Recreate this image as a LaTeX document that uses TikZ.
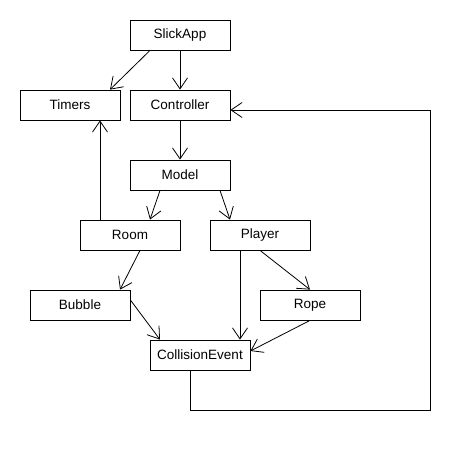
\documentclass[tikz,border=0pt]{standalone}
\usepackage{fontspec}
\setmainfont{Liberation Sans}
\usetikzlibrary{arrows.meta}
\tikzset{
  cls/.style={draw, line width=0.8pt, minimum width=100pt, minimum height=30pt, inner sep=0pt, font=\fontsize{13.5}{16}\selectfont},
  dep/.style={->, line width=0.8pt}
}
\begin{document}
\begin{tikzpicture}[x=1pt, y=-1pt, >={Straight Barb[length=11pt, width=15pt]}]
				\useasboundingbox (0,0) rectangle (470,450);
				% 1. 类框
				\node[cls] (slick) at (180,35) {SlickApp};
				\node[cls] (timers) at (70,105) {Timers};
				\node[cls] (ctrl) at (180,105) {Controller};
				\node[cls] (model) at (180,175) {Model};
				\node[cls] (room) at (130,235) {Room};
				\node[cls] (player) at (260,235) {Player};
				\node[cls] (bubble) at (80,305) {Bubble};
				\node[cls] (rope) at (310,305) {Rope};
				\node[cls] (coll) at (200,355) {CollisionEvent};
				
				% 2. 依赖箭头
				\draw[dep] ([xshift=-30pt]slick.south) -- ([xshift=40pt]timers.north);
				\draw[dep] (slick.south) -- (ctrl.north);
				\draw[dep] (ctrl.south) -- (model.north);
				\draw[dep] ([xshift=-20pt]model.south) -- ([xshift=20pt]room.north);
				\draw[dep] ([xshift=40pt]model.south) -- ([xshift=-30pt]player.north);
				\draw[dep] ([xshift=-30pt]room.north) -- ([xshift=30pt]timers.south);
				\draw[dep] ([xshift=10pt]room.south) -- ([xshift=40pt]bubble.north);
				\draw[dep] (player.south) -- (rope.north);
				\draw[dep] ([xshift=-20pt]player.south) -- ([xshift=40pt]coll.north);
				\draw[dep] ([yshift=5pt]bubble.east) -- ([xshift=-40pt]coll.north);
				\draw[dep] (rope.south) -- ([yshift=4pt]coll.east);
				
				% 3. 回到 Controller 的折线
				\coordinate (loop) at (430,410);
				\draw[dep] ([xshift=-10pt]coll.south) |- (loop) |- ([yshift=-5pt]ctrl.east);
			\end{tikzpicture}
\end{document}
